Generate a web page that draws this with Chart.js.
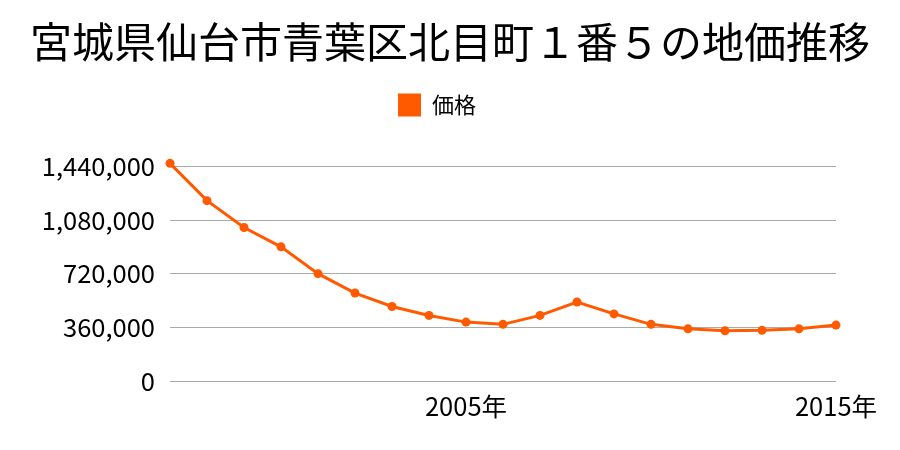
<!DOCTYPE html>
<html><head><meta charset="utf-8">
<script src="https://cdn.jsdelivr.net/npm/chart.js@4"></script>
<style>html,body{margin:0;padding:0;background:#fff}#wrap{width:900px;height:450px}</style>
</head><body><div id="wrap"><canvas id="c" width="900" height="450"></canvas></div>
<script>
const years = ['1997','1998','1999','2000','2001','2002','2003','2004','2005','2006','2007','2008','2009','2010','2011','2012','2013','2014','2015'];
const shownYears = ['2005','2015'];
const prices = [1460000,1210000,1030000,900000,720000,590000,500000,440000,395000,380000,440000,530000,450000,380000,350000,337000,340000,350000,375000];
const yTicks = [0,360000,720000,1080000,1440000];
const FONT = '"Noto Sans CJK JP", "Noto Sans", sans-serif';
const legendGap = {
  id: 'legendGap',
  beforeInit(chart) {
    const orig = chart.legend.fit;
    chart.legend.fit = function () {
      orig.call(this);
      this.height += 31;
      if (this.lineWidths && this.lineWidths.length) this.lineWidths[0] += 26;
    };
  }
};
new Chart(document.getElementById('c'), {
  type: 'line',
  plugins: [legendGap],
  data: { labels: years, datasets: [{
    label: '価格', data: prices, borderColor: '#ff5a00', backgroundColor: '#ff5a00',
    borderWidth: 3, pointRadius: 4.5, pointBackgroundColor: '#ff5a00', pointBorderWidth: 0,
    tension: 0, clip: false
  }]},
  options: {
    responsive: false, animation: false,
    layout: { padding: { left: 20, right: 20, top: 0, bottom: 19 } },
    plugins: {
      title: { display: true, text: '宮城県仙台市青葉区北目町１番５の地価推移', color: '#000',
        font: { family: FONT, size: 42, weight: 'normal' }, padding: { top: 17, bottom: 16 } },
      legend: { labels: { color: '#000', font: { family: FONT, size: 22 }, boxWidth: 23, boxHeight: 23, useBorderRadius: false,
        generateLabels: (ch) => [{ text: '価格', fillStyle: '#ff5a00', strokeStyle: '#ff5a00', lineWidth: 0, fontColor: '#000' }] } },
      tooltip: { enabled: false }
    },
    scales: {
      x: { offset: false, grid: { display: false }, border: { display: false },
        afterFit: (ax) => { ax.height = 50; },
        ticks: { color: '#000', padding: 2, font: { family: FONT, size: 25.5 }, autoSkip: false, maxRotation: 0,
          callback: function(v, i) { const y = years[i]; return shownYears.includes(y) ? y + '年' : ''; } } },
      y: { min: 0, max: 1500000, border: { display: false },
        grid: { color: '#aaa', lineWidth: 1, drawTicks: false },
        afterFit: (ax) => { ax.width = 150; },
        afterBuildTicks: (ax) => { ax.ticks = yTicks.map(v => ({ value: v })); },
        ticks: { color: '#000', padding: 15, font: { family: FONT, size: 25.5 },
          callback: (v) => v.toLocaleString('en-US') } },
      yR: { position: 'right', display: true, min: 0, max: 1500000,
        grid: { display: false, drawOnChartArea: false }, border: { display: false },
        ticks: { display: false },
        afterFit: (ax) => { ax.width = 44; } }
    }
  }
});
</script></body></html>
